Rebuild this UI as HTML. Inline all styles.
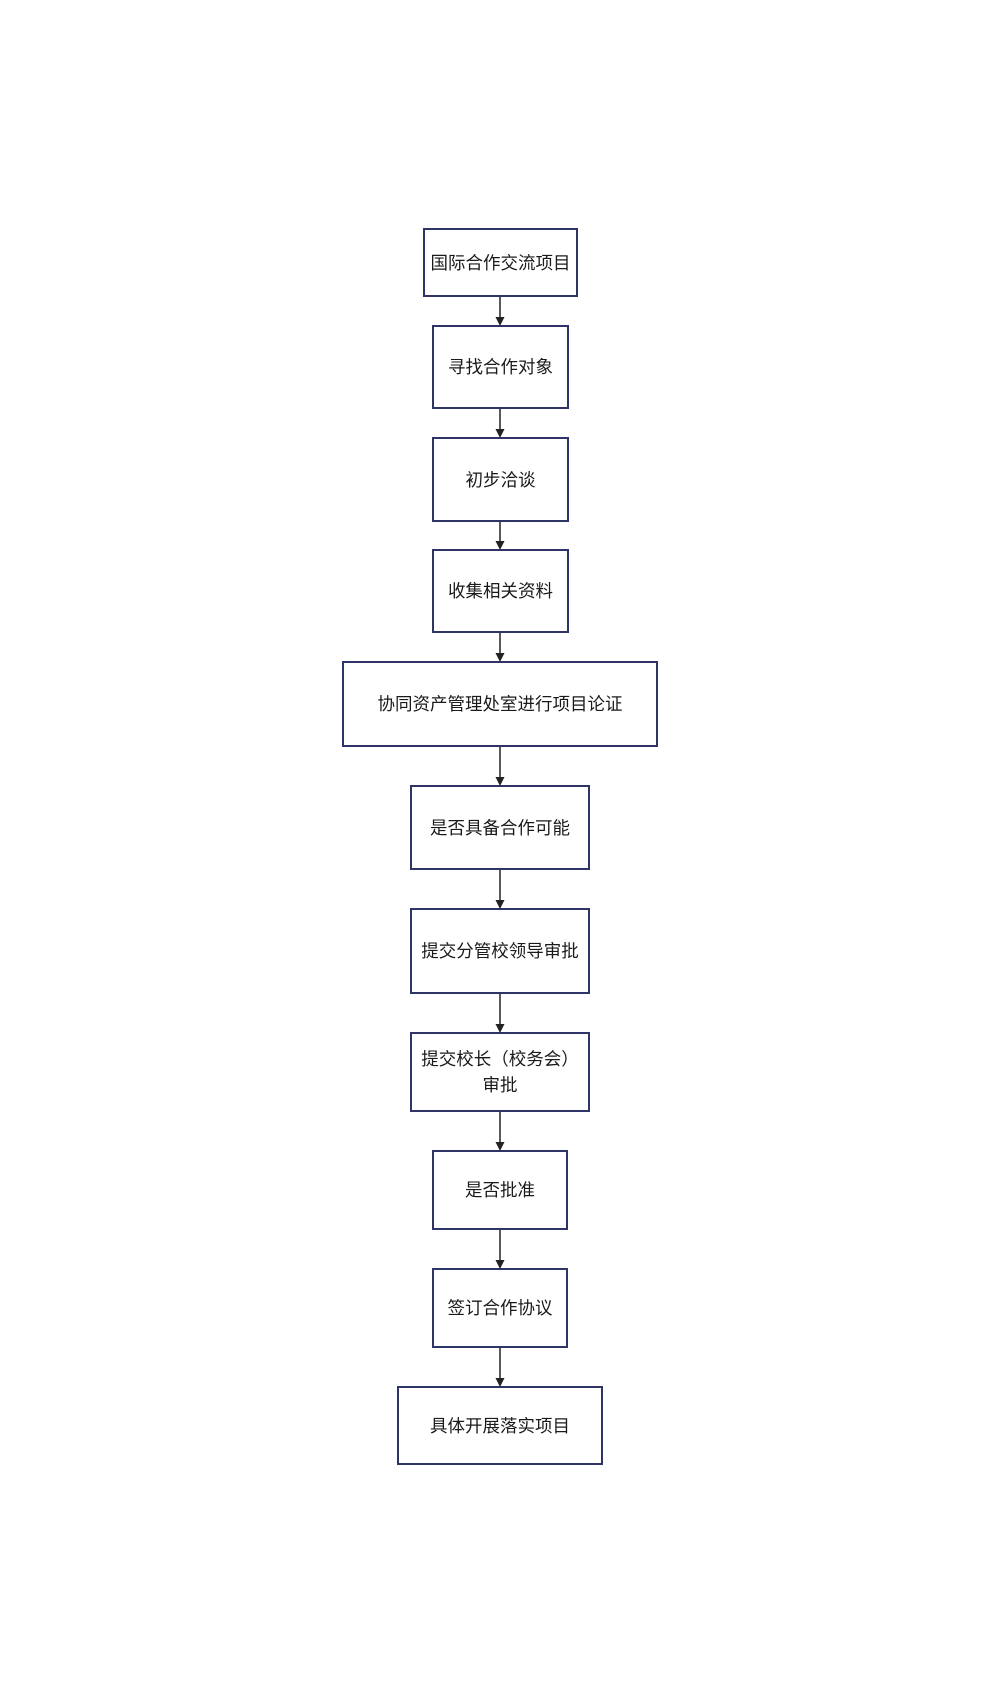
<!DOCTYPE html>
<html><head><meta charset="utf-8"><style>
html,body{margin:0;padding:0;background:#fff}
body{width:999px;height:1693px;position:relative;overflow:hidden;font-family:"Liberation Sans","Noto Sans CJK SC",sans-serif}
.b{position:absolute;box-sizing:border-box;border:2px solid #2f3466;display:flex;align-items:center;justify-content:center;text-align:center;font-size:17.5px;color:#1a1a1a;line-height:26px;background:#fff}
svg{position:absolute;left:0;top:0;z-index:2}
</style></head><body>
<svg width="999" height="1693">
<g stroke="#222" stroke-width="1.5">
<line x1="500" y1="297" x2="500" y2="318"/>
<line x1="500" y1="409" x2="500" y2="430"/>
<line x1="500" y1="522" x2="500" y2="542"/>
<line x1="500" y1="633" x2="500" y2="654"/>
<line x1="500" y1="747" x2="500" y2="778"/>
<line x1="500" y1="870" x2="500" y2="901"/>
<line x1="500" y1="994" x2="500" y2="1025"/>
<line x1="500" y1="1112" x2="500" y2="1143"/>
<line x1="500" y1="1230" x2="500" y2="1261"/>
<line x1="500" y1="1348" x2="500" y2="1379"/>
</g>
<g fill="#222">
<path d="M495.5,317 L504.5,317 L500,326 z"/>
<path d="M495.5,429 L504.5,429 L500,438 z"/>
<path d="M495.5,541 L504.5,541 L500,550 z"/>
<path d="M495.5,653 L504.5,653 L500,662 z"/>
<path d="M495.5,777 L504.5,777 L500,786 z"/>
<path d="M495.5,900 L504.5,900 L500,909 z"/>
<path d="M495.5,1024 L504.5,1024 L500,1033 z"/>
<path d="M495.5,1142 L504.5,1142 L500,1151 z"/>
<path d="M495.5,1260 L504.5,1260 L500,1269 z"/>
<path d="M495.5,1378 L504.5,1378 L500,1387 z"/>
</g></svg>
<div class="b" style="left:423px;top:228px;width:155px;height:69px">国际合作交流项目</div>
<div class="b" style="left:432px;top:325px;width:137px;height:84px">寻找合作对象</div>
<div class="b" style="left:432px;top:437px;width:137px;height:85px">初步洽谈</div>
<div class="b" style="left:432px;top:549px;width:137px;height:84px">收集相关资料</div>
<div class="b" style="left:342px;top:661px;width:316px;height:86px">协同资产管理处室进行项目论证</div>
<div class="b" style="left:410px;top:785px;width:180px;height:85px">是否具备合作可能</div>
<div class="b" style="left:410px;top:908px;width:180px;height:86px">提交分管校领导审批</div>
<div class="b" style="left:410px;top:1032px;width:180px;height:80px">提交校长（校务会）<br>审批</div>
<div class="b" style="left:432px;top:1150px;width:136px;height:80px">是否批准</div>
<div class="b" style="left:432px;top:1268px;width:136px;height:80px">签订合作协议</div>
<div class="b" style="left:397px;top:1386px;width:206px;height:79px">具体开展落实项目</div>
</body></html>
